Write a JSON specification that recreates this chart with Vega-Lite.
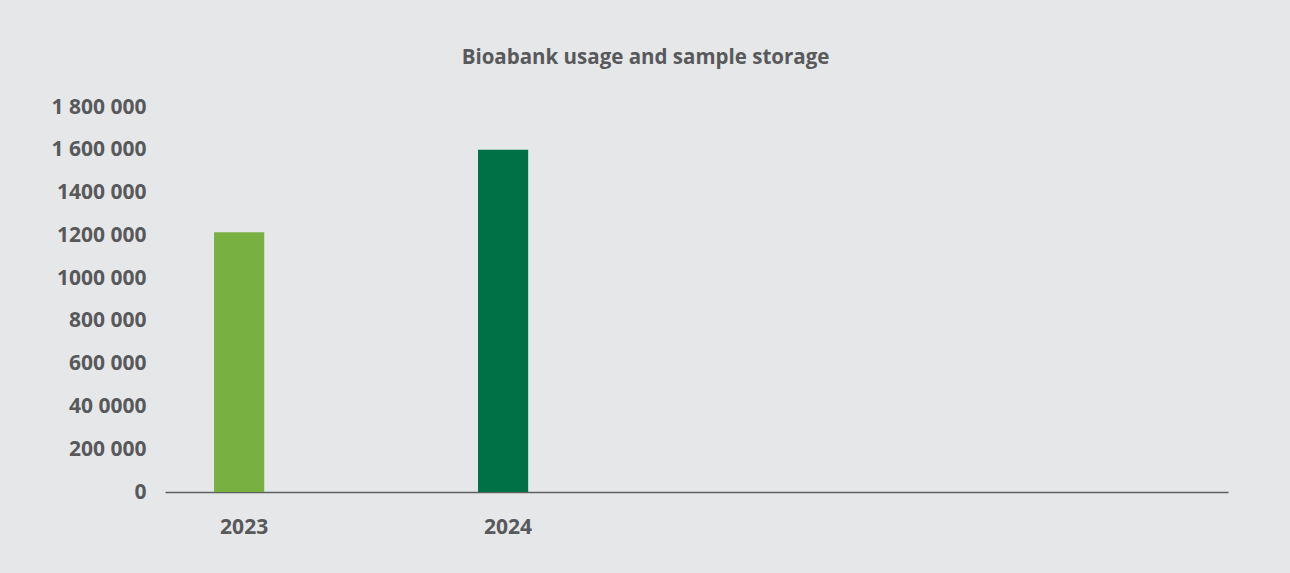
{
  "$schema": "https://vega.github.io/schema/vega-lite/v6.json",
  "autosize": "none",
  "width": 1063,
  "height": 385,
  "padding": {"left": 165, "top": 107, "right": 62, "bottom": 81},
  "background": "#e6e7e9",
  "config": {
    "view": {"stroke": null},
    "font": "Open Sans"
  },
  "title": {
    "text": "Bioabank usage and sample storage",
    "anchor": "middle",
    "frame": "group",
    "dx": -51,
    "offset": 28,
    "fontSize": 20.5,
    "fontWeight": "bold",
    "color": "#58595b",
    "font": "Open Sans"
  },
  "data": {
    "values": [
      {"year": "2023", "samples": 1215000},
      {"year": "2024", "samples": 1600000}
    ]
  },
  "mark": {"type": "bar"},
  "encoding": {
    "x": {
      "field": "year",
      "type": "nominal",
      "scale": {"domain": ["2023", "2024", "2025", "2026"], "paddingInner": 0.81, "paddingOuter": 0.4185, "align": 0.222},
      "axis": {
        "title": null,
        "values": ["2023", "2024"],
        "labelAngle": 0,
        "ticks": false,
        "domainColor": "#5e5f61",
        "domainWidth": 1.5,
        "labelFontSize": 21,
        "labelFontWeight": "bold",
        "labelColor": "#58595b",
        "labelPadding": 24,
        "labelOffset": 5,
        "grid": false
      }
    },
    "y": {
      "field": "samples",
      "type": "quantitative",
      "scale": {"domain": [0, 1800000], "nice": false},
      "axis": {
        "title": null,
        "values": [0, 200000, 400000, 600000, 800000, 1000000, 1200000, 1400000, 1600000, 1800000],
        "labelExpr": "datum.value == 1800000 ? '1 800 000' : datum.value == 1600000 ? '1 600 000' : datum.value == 1400000 ? '1400 000' : datum.value == 1200000 ? '1200 000' : datum.value == 1000000 ? '1000 000' : datum.value == 800000 ? '800 000' : datum.value == 600000 ? '600 000' : datum.value == 400000 ? '40 0000' : datum.value == 200000 ? '200 000' : '0'",
        "domain": false,
        "ticks": false,
        "grid": false,
        "labelFontSize": 21,
        "labelFontWeight": "bold",
        "labelColor": "#58595b",
        "labelPadding": 19
      }
    },
    "color": {
      "field": "year",
      "type": "nominal",
      "scale": {"domain": ["2023", "2024"], "range": ["#78b041", "#007047"]},
      "legend": null
    }
  }
}
